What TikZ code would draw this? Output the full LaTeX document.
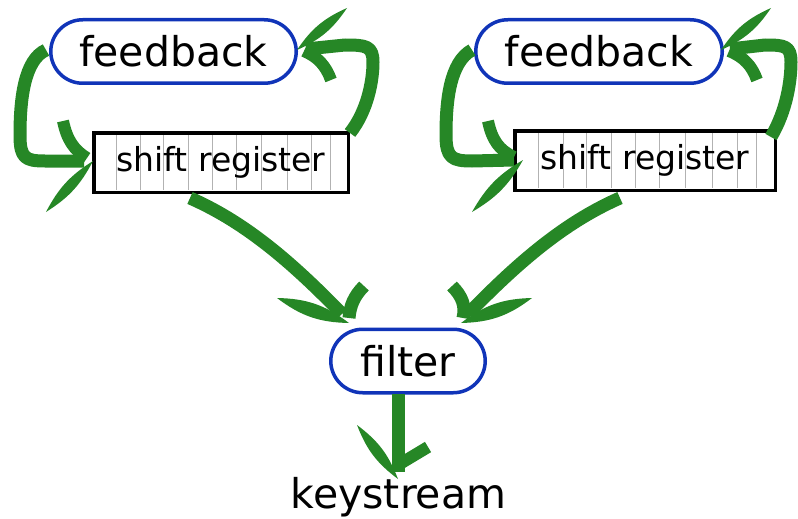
\documentclass[tikz,border=0pt]{standalone}
\usepackage{fontspec}
\setmainfont{DejaVu Sans}
\definecolor{fbblue}{RGB}{16,52,184}
\definecolor{arrgreen}{RGB}{38,135,38}
\begin{document}
\begin{tikzpicture}[x=1pt,y=-1pt,
  box/.style={draw=fbblue, line width=3.5pt, rounded corners=32pt, minimum height=63.5pt,
    inner sep=0pt, font=\fontsize{41}{48}\selectfont},
  reg/.style={draw=black, line width=3.5pt, minimum height=59.5pt, inner sep=0pt,
    font=\fontsize{33}{40}\selectfont},
  shaft/.style={draw=arrgreen, line width=13pt, line cap=butt, line join=round},
  barb/.style={draw=arrgreen, line width=12pt, line cap=butt},
  leaf/.style={fill=arrgreen},
  cell/.style={draw=black!30, line width=0.8pt}]
\useasboundingbox (0,0) rectangle (798,519);

% cell dividers of the two shift registers
\foreach \x in {116,140,163,188,212,236,261,287,311,330}
  \draw[cell] (\x,134) -- (\x,190);
\foreach \x in {538,563,586,611,635,659,685,712,737,756}
  \draw[cell] (\x,132) -- (\x,188);

% blocks
\node[box, minimum width=245.5pt] (fb1) at (173.5,51.5) {feedback};
\node[box, minimum width=246.5pt] (fb2) at (599,51.5) {feedback};
\node[reg, minimum width=254.5pt] (sr1) at (221,162.5) {shift register};
\node[reg, minimum width=260.5pt] (sr2) at (645,160.5) {shift register};
\node[box, minimum width=154.5pt] (flt) at (408,361) {filter};
\node[anchor=base, font=\fontsize{41}{48}\selectfont, inner sep=0pt] (ks) at (398.5,508) {keystream};

% points along the hand-drawn arrows
\coordinate (a1s) at (46,50);   \coordinate (a1t) at (93,161);
\coordinate (a2s) at (350,133); \coordinate (a2t) at (297,50);
\coordinate (a3s) at (190,198); \coordinate (a3t) at (349,323);
\coordinate (a4s) at (620,198); \coordinate (a4t) at (461,323);
\coordinate (a5s) at (398,394); \coordinate (a5t) at (398,479);
\coordinate (a6s) at (472,50);  \coordinate (a6t) at (523,160);
\coordinate (a7s) at (771,137); \coordinate (a7t) at (721,50);

% feedback -> shift register (left)
\draw[shaft] (a1s) .. controls (24,60) and (20,100) .. (20,135)
  .. controls (20,158) and (25,161) .. (45,161) -- (84,161);
\draw[barb] (63,121) .. controls (67,140) and (74,150) .. (87,158);
\fill[leaf] (a1t) to[bend left=15] (46,212) to[bend left=15] (a1t);

% shift register -> feedback (left)
\draw[shaft] (a2s) .. controls (368,110) and (373,80) .. (373,62)
  .. controls (373,46) and (366,45) .. (345,45) -- (306,49);
\draw[barb] (331,80) .. controls (326,66) and (318,57) .. (304,51);
\fill[leaf] (a2t) to[bend left=16] (347,8) to[bend left=16] (a2t);

% shift register -> filter (left)
\draw[shaft] (a3s) .. controls (240,220) and (285,255) .. (342,314);
\draw[barb, line width=13pt] (364,286) .. controls (354,296) and (350,306) .. (349,318);
\fill[leaf] (a3t) to[bend left=18] (277,298) to[bend left=18] (a3t);

% shift register -> filter (right)
\draw[shaft] (a4s) .. controls (570,220) and (525,255) .. (468,314);
\draw[barb, line width=13pt] (452,286) .. controls (462,296) and (466,306) .. (463,318);
\fill[leaf] (a4t) to[bend left=18] (532,298) to[bend left=18] (a4t);

% filter -> keystream
\draw[shaft] (a5s) -- (398,472);
\draw[barb] (428,447) -- (398,465);
\fill[leaf] (a5t) to[bend left=16] (357,425) to[bend left=16] (a5t);

% feedback -> shift register (right)
\draw[shaft] (a6s) .. controls (450,62) and (446,100) .. (446,135)
  .. controls (446,158) and (452,161) .. (472,161) -- (514,160);
\draw[barb] (488,121) .. controls (492,140) and (499,150) .. (514,157);
\fill[leaf] (a6t) to[bend left=15] (472,212) to[bend left=15] (a6t);

% shift register -> feedback (right)
\draw[shaft] (a7s) .. controls (787,110) and (791,80) .. (791,62)
  .. controls (791,46) and (785,45) .. (765,45) -- (730,49);
\draw[barb] (757,80) .. controls (752,66) and (744,57) .. (729,51);
\fill[leaf] (a7t) to[bend left=16] (771,8) to[bend left=16] (a7t);
\end{tikzpicture}
\end{document}
